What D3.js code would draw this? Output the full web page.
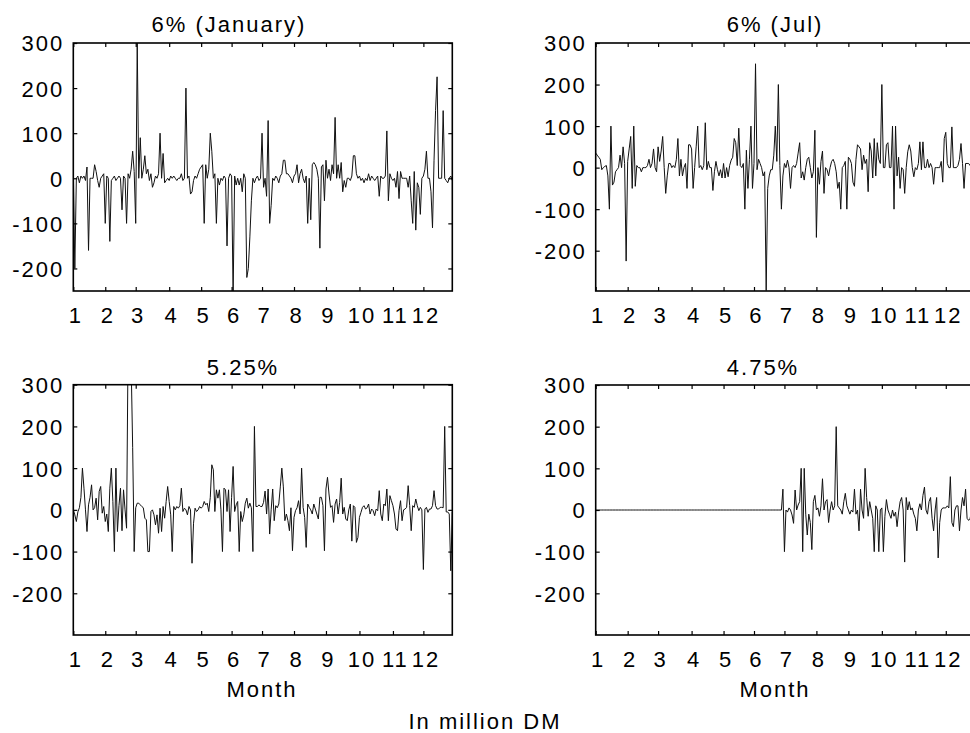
<!DOCTYPE html>
<html lang="en">
<head>
<meta charset="UTF-8" />
<title>Daily series, four panels</title>
<script src="https://cdn.jsdelivr.net/npm/d3@7"></script>
<style>
  body { margin: 0; background: #fff; }
  svg text {
    font-family: "Liberation Sans", Arial, sans-serif;
    font-size: 22px;
    letter-spacing: 2px;
    fill: #000;
  }
</style>
</head>
<body>
<svg id="chart" width="970" height="733"></svg>
<script>
const titles = ["6% (January)", "6% (Jul)", "5.25%", "4.75%"];
const monthLabels = ["1", "2", "3", "4", "5", "6", "7", "8", "9", "10", "11", "12"];
// trading-day index on which each month starts
const monthStartDays = [0, 21, 41, 63, 84, 104, 124, 145, 166, 188, 210, 230];
const yTicks = [300, 200, 100, 0, -100, -200];

// daily values, in million DM
const rate6Jan = [
  30, -200, 0, 5, -10, 5, 0, 5, -5, 25,
  -160, 0, 0, 0, 30, 15, -5, -20, 0, 5,
  10, -100, 5, 0, -140, -5, 0, 5, -5, 0,
  5, 0, -70, 5, 0, -100, 10, 0, 20, 60,
  15, -100, 300, 0, 90, 0, 20, 50, 10, 20,
  -5, 10, -20, -10, 5, 0, 10, 100, 0, 55,
  -10, -5, 0, -5, 5, 0, 5, 0, -5, 0,
  0, 10, -5, 0, 200, 0, 5, -35, -30, -5,
  5, 0, 10, 20, 25, 30, -100, 30, 0, 20,
  100, 60, 0, 10, -100, 0, -15, 0, -5, 5,
  0, -150, 0, 10, 5, -260, 5, -15, 0, -15,
  0, -30, 10, 0, -220, -200, -130, -50, 0, -10,
  0, 5, -5, 0, 100, -20, 0, -40, 128, -100,
  -60, 0, -5, 5, 0, -10, 5, 10, 40, 40,
  10, 10, 5, 0, -10, 5, 10, 30, -10, 10,
  20, 0, -10, 5, -100, 0, -92, 30, 35, 30,
  20, 0, -155, 25, 30, -50, 40, 0, 20, -5,
  30, 10, 135, 0, 30, 0, 35, -30, -5, -20,
  0, 0, -5, 5, 50, 50, 10, 0, 5, -5,
  0, -10, 0, -5, 10, -5, 5, 0, -5, 0,
  5, -40, 5, 0, 0, 5, 105, -50, 10, 0,
  -5, 0, -20, 15, -45, 15, 0, 0, 0, 0,
  -20, 5, -50, -100, 15, -115, -10, -20, -80, 0,
  5, 20, 60, 0, 0, -30, -110, 40, 150, 225,
  0, 0, 0, 150, 0, -5, -10, 0, 5, -5
];

const rate6Jul = [
  35, 30, 25, 20, -5, 0, 3, 5, -20, -100,
  100, -42, -35, -10, -5, 0, 30, 0, 50, 10,
  -225, 15, 45, 75, -50, 100, -45, 5, 0, 0,
  -10, 0, 0, 0, 5, 20, 0, 10, 45, 0,
  -10, 50, 15, 40, 75, 0, -62, -20, 10, 10,
  0, 5, 0, 20, 70, -20, 20, -20, 0, 10,
  -50, 55, 55, 45, -50, 0, 50, 100, 0, 5,
  -5, 5, 108, -5, 15, 0, 0, -55, -10, 15,
  -5, -20, -5, -25, 10, -25, 0, -22, 5, 18,
  25, 70, 60, 5, 95, 5, 0, 10, -100, 42,
  -50, 20, 100, -50, 10, 250, -5, 20, 10, 0,
  -20, -10, -296, -50, -20, -5, -5, 30, 100, 15,
  200, 5, -100, -20, 10, 0, 18, 0, -50, 0,
  5, 0, 10, 35, 60, -25, -10, -30, 0, 20,
  25, 0, -25, -10, 90, -168, 0, -40, 15, 40,
  -62, 0, -5, -20, 0, 15, 20, 10, -10, -50,
  -35, -100, 0, 5, 15, -100, 25, 20, 10, -35,
  -45, 20, 55, 50, 45, -5, 30, 10, 20, -58,
  60, 40, -25, 70, -20, 60, 20, 10, 200, 0,
  0, 55, 60, 0, 0, 100, -100, 100, -20, 25,
  -50, 0, -5, -62, 0, 38, 55, 40, 0, -22,
  0, -5, 10, 62, -5, 62, 0, 0, 20, 0,
  10, 0, -40, 0, 0, 0, 0, 15, -35, 70,
  85, 10, 0, 0, 98, 0, 0, 0, 5, 20,
  58, 10, -50, 10, 10, 10, 5, 10, 0, 5
];

const rate525 = [
  0, -12, -28, -5, 5, 30, 100, 52, 0, -52,
  12, 30, 60, 0, 5, 28, -24, 44, 56, -8,
  8, -28, -10, -52, 52, 100, 20, -100, 100, -52,
  10, 52, -50, 48, 0, -44, 400, 400, 350, 150,
  -100, 5, 16, 16, 12, 8, 5, -20, -24, -100,
  -100, -4, 0, -12, -36, -12, -56, 4, -52, 8,
  -20, 20, 56, 20, -12, -100, 8, 0, 8, 4,
  10, 52, -4, 4, 0, -12, 8, 0, -128, -32,
  4, -4, 0, 8, 4, 8, 20, 12, 16, -4,
  30, 108, 96, -4, 48, 28, 48, 0, -100, 52,
  48, -4, 48, -52, 30, 104, -4, 12, 20, -100,
  -4, -28, -12, 16, 28, 4, 16, 5, -100, 200,
  8, 8, 12, 8, 8, 18, 45, -10, 50, -58,
  0, 50, -26, 10, 5, 14, 55, 100, 55, -26,
  -10, -26, -50, 5, -98, -18, -2, 5, 22, -10,
  100, 6, -18, -90, 14, 6, 0, -10, 14, 2,
  -10, -22, 30, 30, 10, -98, 50, 78, 38, 6,
  10, -30, 14, 26, -10, 18, 76, -10, 6, -22,
  -26, 0, 14, -75, 10, 6, -78, -66, -18, -6,
  6, 10, 2, 5, 14, -10, 2, -2, -14, 2,
  -2, 46, -10, -26, 14, 10, 50, -26, 34, 22,
  10, -10, -46, -50, -2, 22, -26, 0, 2, 6,
  58, 10, -50, 10, 6, 26, 10, -2, 6, 0,
  -143, 2, 6, -6, 2, 2, 10, 46, 10, 2,
  2, 6, 6, 5, 200, -5, -5, -10, -146, -5
];

const rate475 = [
  0, 0, 0, 0, 0, 0, 0, 0, 0, 0,
  0, 0, 0, 0, 0, 0, 0, 0, 0, 0,
  0, 0, 0, 0, 0, 0, 0, 0, 0, 0,
  0, 0, 0, 0, 0, 0, 0, 0, 0, 0,
  0, 0, 0, 0, 0, 0, 0, 0, 0, 0,
  0, 0, 0, 0, 0, 0, 0, 0, 0, 0,
  0, 0, 0, 0, 0, 0, 0, 0, 0, 0,
  0, 0, 0, 0, 0, 0, 0, 0, 0, 0,
  0, 0, 0, 0, 0, 0, 0, 0, 0, 0,
  0, 0, 0, 0, 0, 0, 0, 0, 0, 0,
  0, 0, 0, 0, 0, 0, 0, 0, 0, 0,
  0, 0, 0, 0, 0, 0, 0, 0, 0, 0,
  0, 0, 0, 50, -100, 0, -5, 5, 0, -12,
  -32, 48, 0, 12, 20, 100, -100, 100, -10, -60,
  -10, -30, -95, 20, 35, 0, 5, -15, 10, 75,
  0, 20, 25, -30, 0, 20, 0, 10, 200, 10,
  5, 0, -10, 20, 40, 10, 0, -10, 0, -5,
  50, -10, 0, -50, 50, 0, -20, 100, 30, -15,
  20, 0, -20, -100, 10, 0, -100, 0, 5, -100,
  -15, 25, 0, -10, -20, 0, -15, -5, -40, -5,
  20, 30, 0, -125, 30, 0, 20, 0, 5, -10,
  -20, -50, 0, 15, 0, 35, 55, 0, -10, 20,
  30, -20, -50, 0, 30, -115, -30, 0, 5, 5,
  5, 10, 5, 80, -30, -40, 0, 10, 10, -50,
  0, 30, 10, 50, -20, -25, -20, 0, 10, 0
];

const series = [rate6Jan, rate6Jul, rate525, rate475];

// layout of the four panels (pixels) and their y ranges
const panels = [
  { left: 73.3, top: 43, height: 248, yMin: -250, titleX: 229, titleY: 32 },
  { left: 595.7, top: 43, height: 248, yMin: -297, titleX: 775, titleY: 32 },
  { left: 73.3, top: 384.7, height: 250.3, yMin: -300, titleX: 243, titleY: 375 },
  { left: 595.7, top: 385, height: 250, yMin: -300, titleX: 763, titleY: 375 }
];
const panelWidth = 379;

const svg = d3.select("#chart");

panels.forEach((p, i) => {
  const values = series[i];
  const g = svg.append("g").attr("transform", `translate(${p.left},${p.top})`);

  const x = d3.scaleLinear().domain([0, 249]).range([0, panelWidth]);
  const y = d3.scaleLinear().domain([p.yMin, 300]).range([p.height, 0]);

  const clipId = "clip" + i;
  g.append("clipPath")
    .attr("id", clipId)
    .append("rect")
    .attr("width", panelWidth)
    .attr("height", p.height);

  const line = d3
    .line()
    .x((d, k) => x(k))
    .y((d) => y(d));

  g.append("path")
    .datum(values)
    .attr("clip-path", `url(#${clipId})`)
    .attr("fill", "none")
    .attr("stroke", "#111")
    .attr("stroke-width", 1)
    .attr("d", line);

  // inward ticks on all four sides
  const left = g.append("g").call(
    d3
      .axisLeft(y)
      .tickValues(yTicks)
      .tickSize(-4)
      .tickPadding(9)
      .tickFormat((d) => String(d))
  );
  const right = g
    .append("g")
    .attr("transform", `translate(${panelWidth},0)`)
    .call(d3.axisRight(y).tickValues(yTicks).tickSize(-4).tickFormat(""));
  const top = g.append("g").call(
    d3.axisTop(x).tickValues(monthStartDays).tickSize(-4).tickFormat("")
  );
  const bottom = g
    .append("g")
    .attr("transform", `translate(0,${p.height})`)
    .call(
      d3
        .axisBottom(x)
        .tickValues(monthStartDays)
        .tickSize(-4)
        .tickPadding(16)
        .tickFormat((d, k) => monthLabels[k])
    );

  [left, right, top, bottom].forEach((a) => {
    a.select(".domain").remove();
    a.selectAll("line").attr("stroke", "#000").attr("stroke-width", 1.2);
    a.selectAll("text").attr("font-size", null).attr("font-family", null);
  });
  bottom.selectAll("text").attr("dx", 2);
  left.selectAll("text").attr("dy", "0.36em");

  g.append("rect")
    .attr("width", panelWidth)
    .attr("height", p.height)
    .attr("fill", "none")
    .attr("stroke", "#000")
    .attr("stroke-width", 1.6);

  svg
    .append("text")
    .attr("x", p.titleX)
    .attr("y", p.titleY)
    .attr("text-anchor", "middle")
    .text(titles[i]);
});

svg.append("text").attr("x", 262).attr("y", 697).attr("text-anchor", "middle").text("Month");
svg.append("text").attr("x", 775).attr("y", 697).attr("text-anchor", "middle").text("Month");
svg.append("text").attr("x", 485).attr("y", 729).attr("text-anchor", "middle").text("In million DM");
</script>
</body>
</html>
